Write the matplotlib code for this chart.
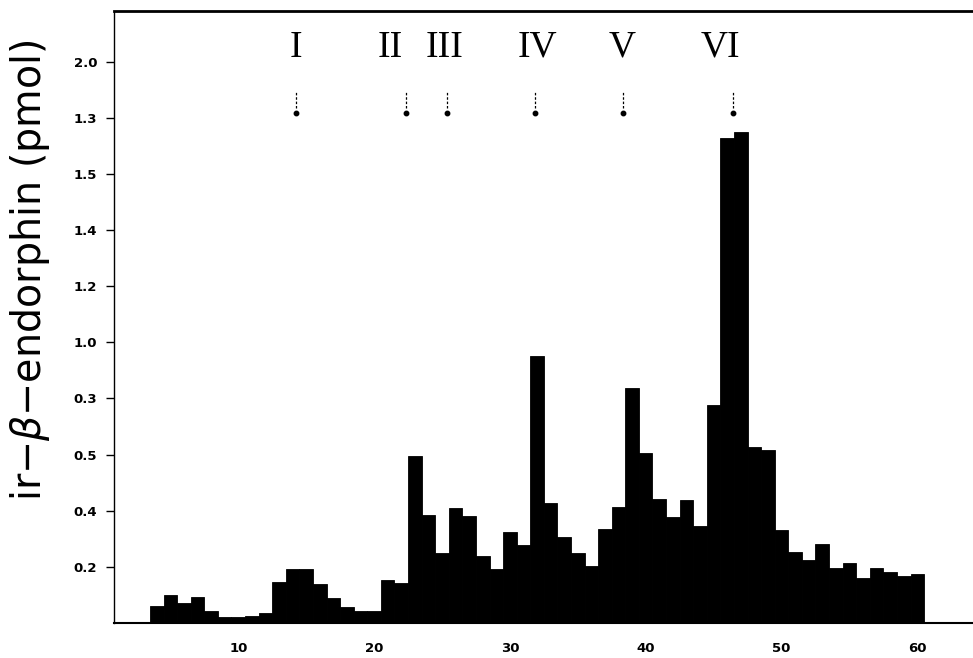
import matplotlib
matplotlib.use("Agg")
import matplotlib.pyplot as plt
import numpy as np

# ---- data ----
fractions = list(range(4, 61))
values = [0.061, 0.100, 0.071, 0.093, 0.043, 0.021, 0.021, 0.025, 0.036, 0.146,
          0.193, 0.193, 0.139, 0.089, 0.057, 0.043, 0.043, 0.153, 0.143, 0.595,
          0.385, 0.250, 0.410, 0.381, 0.239, 0.193, 0.324, 0.278, 0.952, 0.428,
          0.307, 0.250, 0.203, 0.335, 0.414, 0.838, 0.606, 0.442, 0.378, 0.438,
          0.346, 0.777, 1.729, 1.750, 0.627, 0.617, 0.332, 0.253, 0.225, 0.282,
          0.196, 0.214, 0.160, 0.196, 0.182, 0.168, 0.175]
ytick_values = [0.2, 0.4, 0.6, 0.8, 1.0, 1.2, 1.4, 1.6, 1.8, 2.0]
ytick_labels = ["0.2", "0.4", "0.5", "0.3", "1.0", "1.2", "1.4", "1.5", "1.3", "2.0"]
xtick_values = [10, 20, 30, 40, 50, 60]
xtick_labels = ["10", "20", "30", "40", "50", "60"]
peak_names = ["I", "II", "III", "IV", "V", "VI"]
peak_marker_x = [14.25, 22.35, 25.4, 31.85, 38.3, 46.4]
peak_label_x = [14.25, 21.2, 25.2, 32.05, 38.25, 45.5]

# ---- figure ----
W, H = 973, 658
fig = plt.figure(figsize=(W / 100, H / 100), dpi=100)
ax = fig.add_axes([114 / W, 35 / H, 1 - 114 / W, 612 / H])

ax.bar(fractions, values, width=1.0, color="black", edgecolor="black",
       linewidth=0.6, align="center")

ax.set_xlim(0.85, 64.1)
ax.set_ylim(0, 2.18)

ax.set_yticks(ytick_values)
ax.set_yticklabels(ytick_labels)
ax.set_xticks(xtick_values)
ax.set_xticklabels(xtick_labels)

ax.tick_params(axis="y", direction="out", length=6, width=1.0, pad=6,
               labelsize=9.5, colors="black")
ax.tick_params(axis="x", length=0, pad=14, labelsize=9.5)
for lab in ax.get_xticklabels() + ax.get_yticklabels():
    lab.set_fontweight("bold")

ax.spines["right"].set_visible(False)
ax.spines["left"].set_linewidth(1.0)
ax.spines["left"].set_linestyle((0, (6, 1)))
ax.spines["top"].set_linewidth(2.0)
ax.spines["bottom"].set_linewidth(1.5)

# peak markers
for mx, lx, name in zip(peak_marker_x, peak_label_x, peak_names):
    ax.plot([mx, mx], [1.835, 1.895], color="black", lw=0.9,
            linestyle=(0, (2, 1.5)), clip_on=False)
    ax.plot([mx], [1.818], marker="o", ms=3.2, color="black", clip_on=False)
    ax.text(lx, 2.05, name, ha="center", va="center",
            family="Liberation Serif", fontsize=27, color="black")

fig.text(30 / W, 1 - 270 / H, "ir\u2212$\\beta$\u2212endorphin (pmol)",
         rotation=90, ha="center", va="center", fontsize=28.5, color="black")

fig.savefig("out.png", dpi=100, facecolor="white")
